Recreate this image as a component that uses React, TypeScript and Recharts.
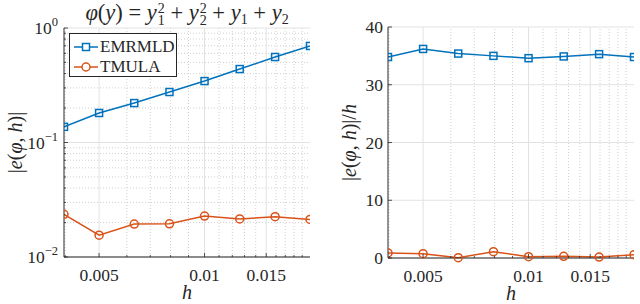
import React from "react";
import { LineChart, Line, XAxis, YAxis, ReferenceLine } from "recharts";

// step sizes h (log spaced) and the two error measures per method
const hValues = [0.00397, 0.005, 0.0063, 0.00794, 0.01, 0.0126, 0.0159, 0.02];
const emrmldErr = [0.137, 0.181, 0.221, 0.276, 0.344, 0.438, 0.558, 0.697];
const tmulaErr = [0.0236, 0.0155, 0.0194, 0.0195, 0.0228, 0.0215, 0.0225, 0.0213];
const emrmldRatio = [34.8, 36.2, 35.4, 35.0, 34.6, 34.9, 35.3, 34.8];
const tmulaRatio = [0.87, 0.75, 0.05, 1.1, 0.23, 0.3, 0.17, 0.57];

const xTicks = [0.005, 0.01, 0.015];
const xMinor = [0.004, 0.006, 0.007, 0.008, 0.009, 0.011, 0.012, 0.013, 0.014, 0.016, 0.017, 0.018, 0.019];
const yLogTicks = [0.01, 0.1, 1];
const yLogMinor = [0.02, 0.03, 0.04, 0.05, 0.06, 0.07, 0.08, 0.09, 0.2, 0.3, 0.4, 0.5, 0.6, 0.7, 0.8, 0.9];
const yLinTicks = [0, 10, 20, 30, 40];

const BLUE = "#0072BD";
const ORANGE = "#D95319";
const AXIS = "#262626";
const GRID = "#e2e2e2";
const MINOR = "#d0d0d0";
const FONT = "Liberation Serif, Times New Roman, Tinos, DejaVu Serif, serif";
const TICK_FS = 17.5;

const errRows = hValues.map((h, i) => ({ h, emrmld: emrmldErr[i], tmula: tmulaErr[i] }));
const ratioRows = hValues.map((h, i) => ({ h, emrmld: emrmldRatio[i], tmula: tmulaRatio[i] }));
const xAll = [...xTicks, ...xMinor];
const yLogAll = [...yLogTicks, ...yLogMinor];

const SquareDot = (p: any) =>
    p.cx == null ? null : (
        <rect key={`sq-${p.index}`} x={p.cx - 3.5} y={p.cy - 3.5} width={7} height={7} fill="none" stroke={BLUE} strokeWidth={1.5} />
    );

const CircleDot = (p: any) =>
    p.cx == null ? null : (
        <circle key={`ci-${p.index}`} cx={p.cx} cy={p.cy} r={4} fill="none" stroke={ORANGE} strokeWidth={1.5} />
    );

const isMajor = (v: number, majors: number[]) => majors.includes(v);

// bottom axis: inward tick + label for majors
const BottomTick = (p: any) => {
    const v = p.payload.value;
    const major = isMajor(v, xTicks);
    const ay = p.y - 11;
    return (
        <g>
            <line x1={p.x} x2={p.x} y1={ay} y2={ay - (major ? 4 : 2)} stroke={AXIS} strokeWidth={0.8} />
            {major ? (
                <text x={p.x} y={p.y} dy={13} textAnchor="middle" style={{ fontFamily: FONT }} fontSize={TICK_FS} fill={AXIS}>
                    {String(v)}
                </text>
            ) : null}
        </g>
    );
};

const TopTick = (p: any) => {
    const major = isMajor(p.payload.value, xTicks);
    return <line x1={p.x} x2={p.x} y1={p.y} y2={p.y + (major ? 4 : 2)} stroke={AXIS} strokeWidth={0.8} />;
};

const LeftLogTick = (p: any) => {
    const v = p.payload.value;
    const major = isMajor(v, yLogTicks);
    const ax = p.x + 6;
    const exp = Math.round(Math.log10(v));
    return (
        <g>
            <line x1={ax} x2={ax + (major ? 4 : 2)} y1={p.y} y2={p.y} stroke={AXIS} strokeWidth={0.8} />
            {major ? (
                <text x={p.x} y={p.y} dy={6} textAnchor="end" style={{ fontFamily: FONT }} fontSize={TICK_FS} fill={AXIS}>
                    <tspan>10</tspan>
                    <tspan dy={-8} fontSize={12.5}>{exp < 0 ? `\u2212${-exp}` : `${exp}`}</tspan>
                </text>
            ) : null}
        </g>
    );
};

const LeftLinTick = (p: any) => {
    const ax = p.x + 5;
    return (
        <g>
            <line x1={ax} x2={ax + 4} y1={p.y} y2={p.y} stroke={AXIS} strokeWidth={0.8} />
            <text x={p.x} y={p.y} dy={6} textAnchor="end" style={{ fontFamily: FONT }} fontSize={TICK_FS} fill={AXIS}>
                {String(p.payload.value)}
            </text>
        </g>
    );
};

const RightTick = (majors: number[] | null) => (p: any) => {
    const major = majors ? isMajor(p.payload.value, majors) : true;
    return <line x1={p.x} x2={p.x - (major ? 4 : 2)} y1={p.y} y2={p.y} stroke={AXIS} strokeWidth={0.8} />;
};

const XLabel = (props: any) => {
    const vb = props.viewBox;
    return (
        <text x={vb.x + vb.width / 2} y={vb.y + 42} textAnchor="middle" style={{ fontFamily: FONT }} fontSize={20} fontStyle="italic" fill={AXIS}>
            h
        </text>
    );
};

const makeYLabel = (dx: number, perH: boolean) => (props: any) => {
    const vb = props.viewBox;
    const cx = vb.x + dx;
    const cy = vb.y + vb.height / 2;
    return (
        <text
            x={cx}
            y={cy}
            transform={`rotate(-90 ${cx} ${cy})`}
            textAnchor="middle"
            dominantBaseline="central"
            style={{ fontFamily: FONT }}
            fontSize={20}
            fill={AXIS}
        >
            |<tspan fontStyle="italic">e</tspan>(<tspan fontStyle="italic">φ</tspan>, <tspan fontStyle="italic">h</tspan>)|
            {perH ? "/" : ""}
            {perH ? <tspan fontStyle="italic">h</tspan> : null}
        </text>
    );
};

const Stack = ({ sup, sub }: { sup: string; sub: string }) => (
    <span
        style={{
            display: "inline-flex",
            flexDirection: "column",
            fontSize: 14,
            lineHeight: "12px",
            verticalAlign: "7px",
            fontStyle: "normal",
            marginLeft: 1,
        }}
    >
        <span>{sup}</span>
        <span>{sub}</span>
    </span>
);

const Sub = ({ t }: { t: string }) => (
    <span style={{ fontSize: 14, verticalAlign: "-4px", fontStyle: "normal" }}>{t}</span>
);

const Title = () => (
    <div
        style={{
            position: "absolute",
            left: 34,
            width: 306,
            top: 0,
            lineHeight: "25px",
            textAlign: "center",
            fontFamily: FONT,
            fontSize: 22.5,
            color: AXIS,
            whiteSpace: "nowrap",
        }}
    >
        <i>φ</i>(<i>y</i>) = <i>y</i>
        <Stack sup="2" sub="1" /> + <i>y</i>
        <Stack sup="2" sub="2" /> + <i>y</i>
        <Sub t="1" /> + <i>y</i>
        <Sub t="2" />
    </div>
);

const LegendBox = () => (
    <div
        style={{
            position: "absolute",
            left: 69,
            top: 33,
            width: 106,
            height: 42,
            border: `1px solid ${AXIS}`,
            background: "#fff",
            fontFamily: FONT,
            fontSize: 17,
            color: AXIS,
        }}
    >
        {[
            { name: "EMRMLD", color: BLUE, sq: true },
            { name: "TMULA", color: ORANGE, sq: false },
        ].map((e, i) => (
            <div key={e.name} style={{ position: "absolute", left: 4, top: 3 + i * 20, height: 20, display: "flex", alignItems: "center" }}>
                <svg width={24} height={20}>
                    <line x1={0} x2={24} y1={10} y2={10} stroke={e.color} strokeWidth={1.5} />
                    {e.sq ? (
                        <rect x={8.5} y={6.5} width={7} height={7} fill="#fff" stroke={e.color} strokeWidth={1.5} />
                    ) : (
                        <circle cx={12} cy={10} r={4} fill="#fff" stroke={e.color} strokeWidth={1.5} />
                    )}
                </svg>
                <span style={{ marginLeft: 2 }}>{e.name}</span>
            </div>
        ))}
    </div>
);

const xAxes = (height: number) => [
    <XAxis
        key="b"
        dataKey="h"
        type="number"
        scale="log"
        domain={["dataMin", "dataMax"]}
        ticks={xAll}
        interval={0}
        tick={<BottomTick />}
        tickLine={false}
        tickSize={0}
        tickMargin={11}
        height={height}
        stroke={AXIS}
        allowDataOverflow
        label={{ content: XLabel }}
    />,
    <XAxis
        key="t"
        xAxisId="top"
        dataKey="h"
        type="number"
        scale="log"
        domain={["dataMin", "dataMax"]}
        orientation="top"
        ticks={xAll}
        interval={0}
        tick={<TopTick />}
        tickLine={false}
        tickSize={0}
        tickMargin={0}
        height={0}
        stroke={AXIS}
        allowDataOverflow
    />,
];

const App = () => (
    <div style={{ position: "absolute", left: 0, top: 0, width: 640, height: 304, background: "#fff", fontFamily: FONT }}>
        <div style={{ position: "absolute", left: 0, top: 0 }}>
            <LineChart width={320} height={304} data={errRows} margin={{ top: 28, right: 10, bottom: 0, left: 0 }}>
                {xMinor.map((v) => (
                    <ReferenceLine key={`xm${v}`} x={v} stroke={MINOR} strokeDasharray="1 2" />
                ))}
                {yLogMinor.map((v) => (
                    <ReferenceLine key={`ym${v}`} y={v} stroke={MINOR} strokeDasharray="1 2" />
                ))}
                {xTicks.map((v) => (
                    <ReferenceLine key={`xM${v}`} x={v} stroke={GRID} />
                ))}
                {yLogTicks.map((v) => (
                    <ReferenceLine key={`yM${v}`} y={v} stroke={GRID} />
                ))}
                {xAxes(47)}
                <YAxis
                    type="number"
                    scale="log"
                    domain={[0.01, 1]}
                    ticks={yLogAll}
                    interval={0}
                    tick={<LeftLogTick />}
                    tickLine={false}
                    tickSize={0}
                    tickMargin={6}
                    width={64}
                    stroke={AXIS}
                    allowDataOverflow
                    label={{ content: makeYLabel(15, false) }}
                />
                <YAxis
                    yAxisId="right"
                    orientation="right"
                    type="number"
                    scale="log"
                    domain={[0.01, 1]}
                    ticks={yLogAll}
                    interval={0}
                    tick={RightTick(yLogTicks)}
                    tickLine={false}
                    tickSize={0}
                    tickMargin={0}
                    width={0}
                    stroke={AXIS}
                    allowDataOverflow
                />
                <Line dataKey="emrmld" stroke={BLUE} strokeWidth={1.5} dot={SquareDot} isAnimationActive={false} />
                <Line dataKey="tmula" stroke={ORANGE} strokeWidth={1.5} dot={CircleDot} isAnimationActive={false} />
            </LineChart>
        </div>
        <div style={{ position: "absolute", left: 320, top: 0 }}>
            <LineChart width={320} height={304} data={ratioRows} margin={{ top: 27, right: 6, bottom: 0, left: 0 }}>
                {xMinor.map((v) => (
                    <ReferenceLine key={`xm${v}`} x={v} stroke={MINOR} strokeDasharray="1 2" />
                ))}
                {xTicks.map((v) => (
                    <ReferenceLine key={`xM${v}`} x={v} stroke={GRID} />
                ))}
                {yLinTicks.map((v) => (
                    <ReferenceLine key={`yM${v}`} y={v} stroke={GRID} />
                ))}
                {xAxes(46)}
                <YAxis
                    type="number"
                    domain={[0, 40]}
                    ticks={yLinTicks}
                    interval={0}
                    tick={<LeftLinTick />}
                    tickLine={false}
                    tickSize={0}
                    tickMargin={5}
                    width={68}
                    stroke={AXIS}
                    label={{ content: makeYLabel(29, true) }}
                />
                <YAxis
                    yAxisId="right"
                    orientation="right"
                    type="number"
                    domain={[0, 40]}
                    ticks={yLinTicks}
                    interval={0}
                    tick={RightTick(null)}
                    tickLine={false}
                    tickSize={0}
                    tickMargin={0}
                    width={0}
                    stroke={AXIS}
                />
                <Line dataKey="emrmld" stroke={BLUE} strokeWidth={1.5} dot={SquareDot} isAnimationActive={false} />
                <Line dataKey="tmula" stroke={ORANGE} strokeWidth={1.5} dot={CircleDot} isAnimationActive={false} />
            </LineChart>
        </div>
        <Title />
        <LegendBox />
    </div>
);

export default App;
